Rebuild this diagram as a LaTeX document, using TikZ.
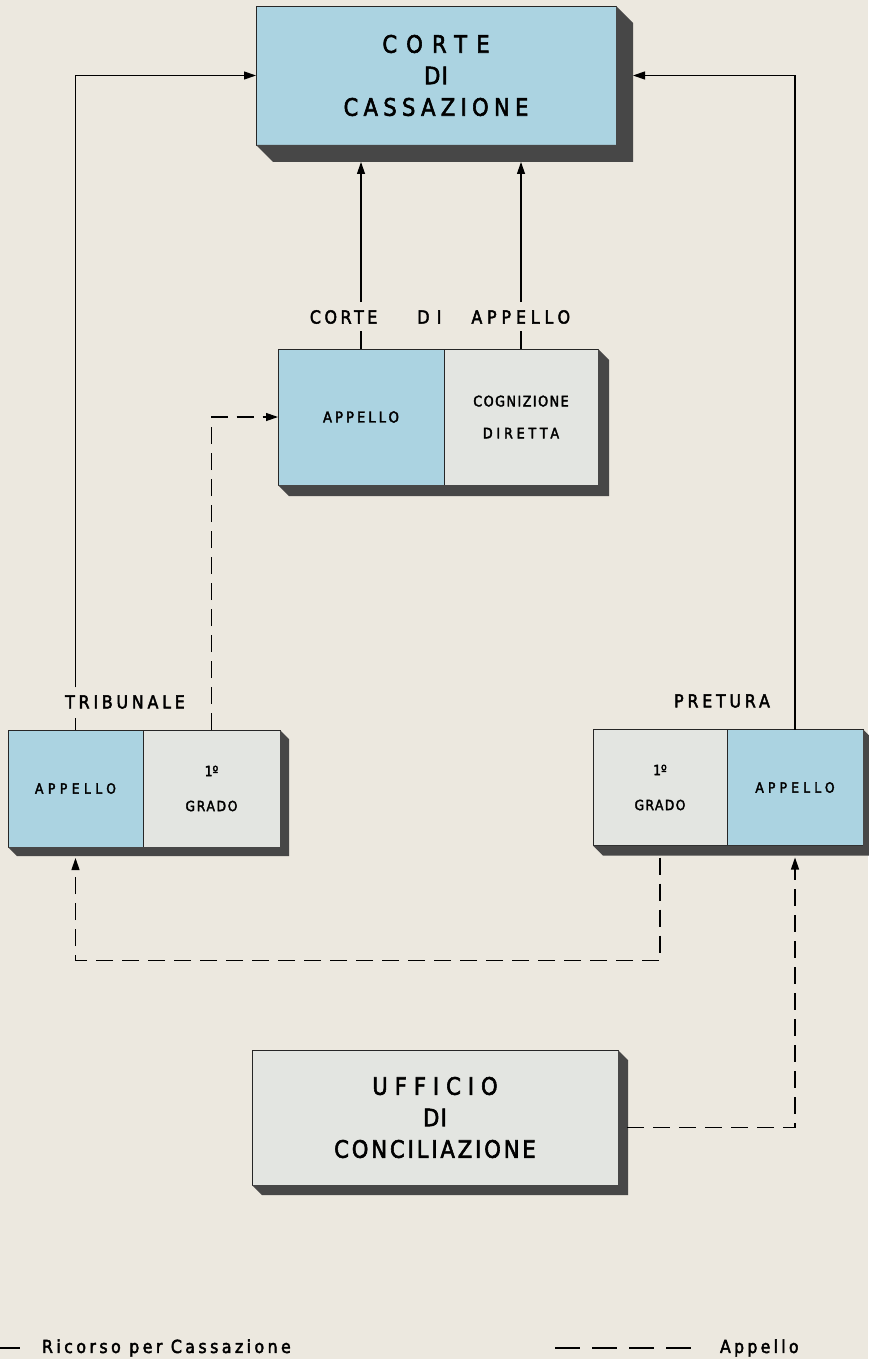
\documentclass[tikz,border=0pt]{standalone}
\usepackage{fontspec}
\setmainfont{DejaVu Sans}[FakeStretch=0.88, FakeBold=2.4]
\usetikzlibrary{arrows.meta, positioning, calc}
\usepackage{xcolor}
\definecolor{paper}{HTML}{ECE8DF}
\definecolor{courtblue}{HTML}{ABD3E1}
\definecolor{courtgray}{HTML}{E3E5E1}
\definecolor{depth}{HTML}{474747}

% dark extrusion below and right of a box
\newcommand{\boxdepth}[4]{%
  \fill[depth] (#1) -- ++(#4,#4) -- ($(#2)+(#4,#4)$) -- ($(#3)+(#4,#4)$) -- (#3) -- (#2) -- cycle;}
\newcommand{\spaced}[2]{{\addfontfeature{LetterSpace=#1}#2}}

\begin{document}
\begin{tikzpicture}[x=1pt,y=-1pt,
    every node/.style={inner sep=0pt, outer sep=0pt},
    court/.style={draw=black!85, line width=0.8pt, align=center},
    bluecourt/.style={court, fill=courtblue},
    graycourt/.style={court, fill=courtgray},
    link/.style={line width=1.2pt},
    ricorso/.style={link, -{Triangle[length=12pt,width=8pt]}},
    appello/.style={ricorso, dash pattern=on 17pt off 9pt},
    bigtext/.style={font=\fontsize{24}{31.5}\selectfont},
    labeltext/.style={font=\fontsize{18}{22}\selectfont},
    smalltext/.style={font=\fontsize{14}{35}\selectfont}]

    \useasboundingbox[fill=paper] (0,0) rectangle (868,1359);

    % courts
    \node[bluecourt, minimum width=360pt, minimum height=139pt, bigtext] (cass) at (436,75.5)
        {\spaced{38}{CORTE}\\\spaced{5}{DI}\\\spaced{22}{CASSAZIONE}};

    \node[bluecourt, minimum width=166pt, minimum height=136pt, font=\fontsize{15}{32}\selectfont] (appA) at (361,417)
        {\spaced{20}{APPELLO}};
    \node[graycourt, minimum width=154pt, minimum height=136pt, font=\fontsize{14.5}{32}\selectfont, right=0pt of appA] (appC)
        {\spaced{10}{COGNIZIONE}\\\spaced{26}{DIRETTA}};

    \node[bluecourt, minimum width=135pt, minimum height=117pt, smalltext] (tribA) at (75.5,788.5)
        {\spaced{32}{APPELLO}};
    \node[graycourt, minimum width=137pt, minimum height=117pt, smalltext, right=0pt of tribA] (tribG)
        {1º\\\spaced{12}{GRADO}};

    \node[graycourt, minimum width=134pt, minimum height=116pt, smalltext] (prG) at (660,787.5)
        {1º\\\spaced{10}{GRADO}};
    \node[bluecourt, minimum width=136pt, minimum height=116pt, smalltext, right=0pt of prG] (prA)
        {\spaced{30}{APPELLO}};

    \node[graycourt, minimum width=366pt, minimum height=135pt, bigtext] (uff) at (435,1117.5)
        {\spaced{29}{UFFICIO}\\\spaced{5}{DI}\\\spaced{12}{CONCILIAZIONE}};

    \boxdepth{cass.south west}{cass.south east}{cass.north east}{17}
    \boxdepth{appA.south west}{appC.south east}{appC.north east}{11}
    \boxdepth{tribA.south west}{tribG.south east}{tribG.north east}{9}
    \boxdepth{prG.south west}{prA.south east}{prA.north east}{10}
    \boxdepth{uff.south west}{uff.south east}{uff.north east}{10}

    % labels
    \node[labeltext] (caLabel) at (440,317)
        {\spaced{20}{CORTE}\hspace{40pt}\spaced{40}{DI}\hspace{30pt}\spaced{27}{APPELLO}};
    \node[labeltext] (tribLabel) at (125,702) {\spaced{21}{TRIBUNALE}};
    \node[labeltext] (prLabel) at (722,701) {\spaced{21}{PRETURA}};

    \coordinate (cassBase) at ($(cass.south)+(0,17)$);
    \coordinate (cassSide) at ($(cass.east)+(17,0)$);

    % ricorso per cassazione
    \draw[link] (appA.north) -- ($(appA |- caLabel.south)+(0,7)$);
    \draw[ricorso] ($(appA |- caLabel.north)+(0,-8)$) -- (appA |- cassBase);
    \draw[link] (appC.north) -- ($(appC |- caLabel.south)+(0,7)$);
    \draw[ricorso] ($(appC |- caLabel.north)+(0,-8)$) -- (appC |- cassBase);
    \draw[link] (tribA.north) -- ($(tribA |- tribLabel.south)+(0,9)$);
    \draw[ricorso] ($(tribA |- tribLabel.north)+(0,-8)$) |- (cass.west);
    \draw[ricorso] (prA.north) |- (cassSide);

    % appello
    \draw[appello] (tribG.north) |- (appA.west);
    \draw[appello] ($(prG.south)+(0,12)$) -- ++(0,103) -| ($(tribA.south)+(0,11)$);
    \draw[appello] ($(uff.east)+(9,10)$) -| ($(prA.south)+(0,12)$);

    % legend
    \coordinate (legSolidA) at (0,1348);
    \coordinate (legSolidB) at (20,1348);
    \draw[link] (legSolidA) -- (legSolidB);
    \node[font=\fontsize{18}{20}\selectfont, anchor=west] (legRicorso) at (42,1348)
        {\spaced{19}{Ricorso per Cassazione}};
    \coordinate (legDashA) at (555,1348);
    \coordinate (legDashB) at (691,1348);
    \draw[link, dash pattern=on 25pt off 12pt] (legDashA) -- (legDashB);
    \node[font=\fontsize{18}{20}\selectfont, anchor=west] (legAppello) at (720,1348)
        {\spaced{18}{Appello}};
\end{tikzpicture}
\end{document}
